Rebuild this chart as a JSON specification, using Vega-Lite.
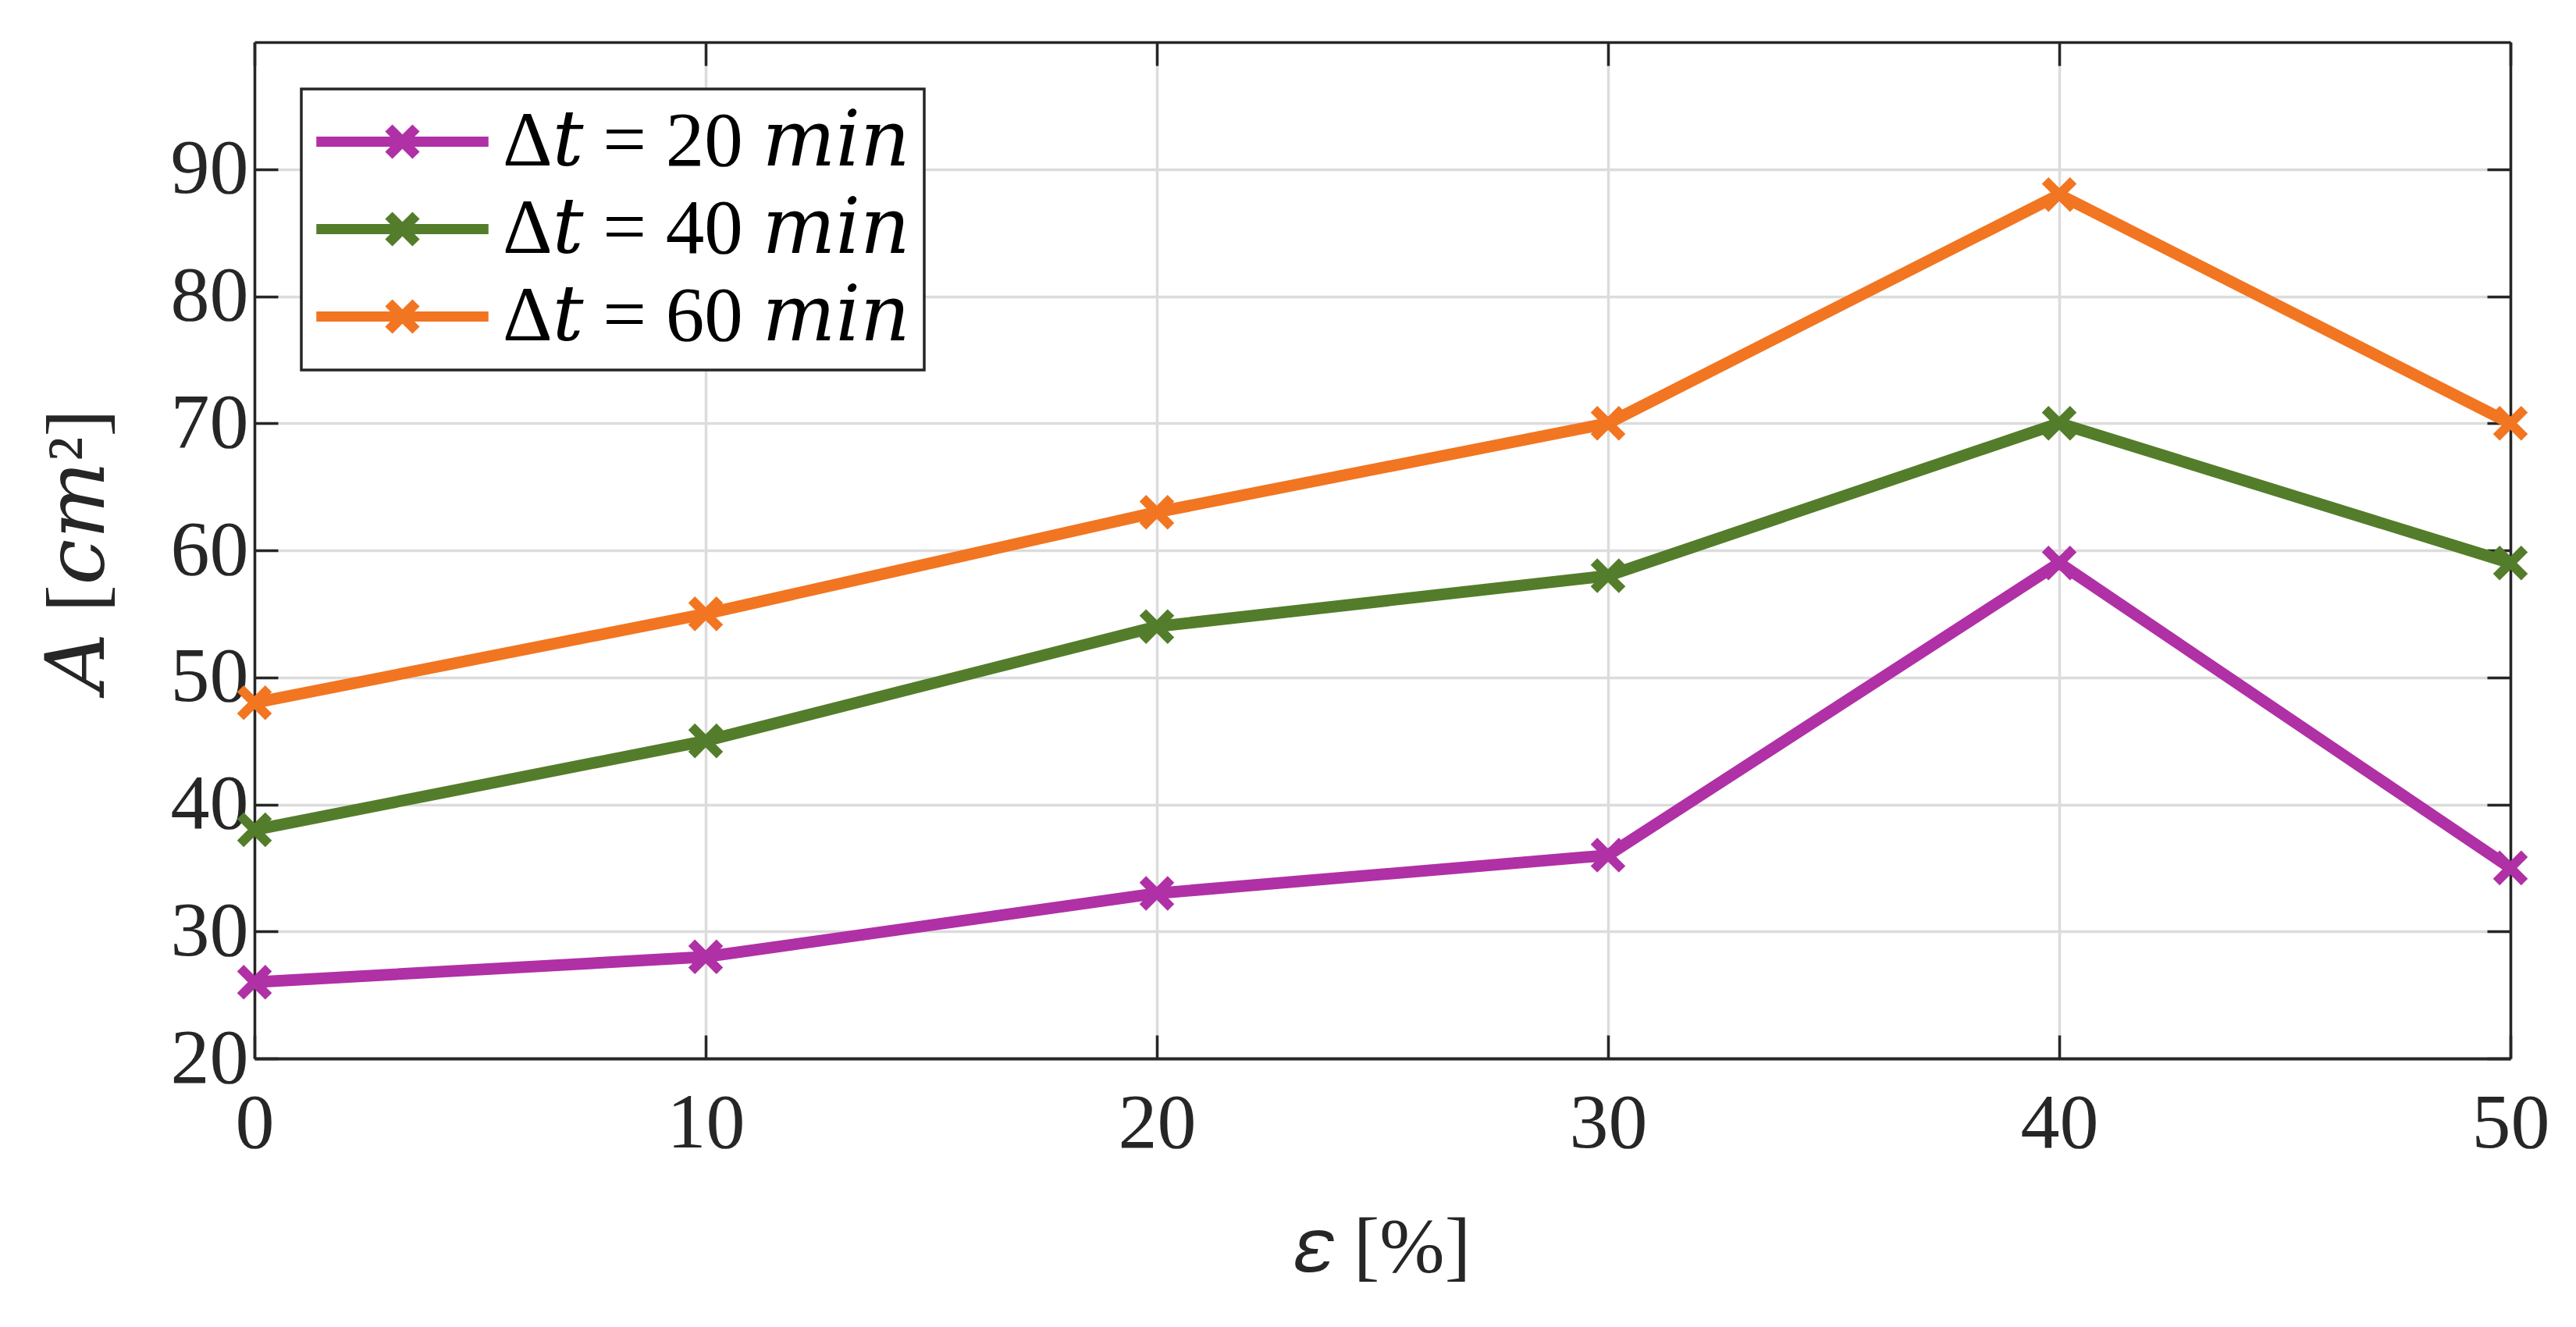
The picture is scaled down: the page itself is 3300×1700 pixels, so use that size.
{
  "$schema": "https://vega.github.io/schema/vega-lite/v6.json",
  "width": 2890,
  "height": 1302,
  "autosize": "none",
  "padding": {"left": 326, "top": 54, "right": 84, "bottom": 344},
  "background": "white",
  "config": {
    "view": {"stroke": null},
    "font": "Liberation Serif, DejaVu Serif",
    "legend": {
      "strokeColor": "#262626",
      "strokeWidth": 3.5,
      "fillColor": "white"
    }
  },
  "data": {
    "values": [
      {"eps": 0, "A": 26, "series": "Δ𝑡 = 20 𝑚𝑖𝑛"},
      {"eps": 10, "A": 28, "series": "Δ𝑡 = 20 𝑚𝑖𝑛"},
      {"eps": 20, "A": 33, "series": "Δ𝑡 = 20 𝑚𝑖𝑛"},
      {"eps": 30, "A": 36, "series": "Δ𝑡 = 20 𝑚𝑖𝑛"},
      {"eps": 40, "A": 59, "series": "Δ𝑡 = 20 𝑚𝑖𝑛"},
      {"eps": 50, "A": 35, "series": "Δ𝑡 = 20 𝑚𝑖𝑛"},
      {"eps": 0, "A": 38, "series": "Δ𝑡 = 40 𝑚𝑖𝑛"},
      {"eps": 10, "A": 45, "series": "Δ𝑡 = 40 𝑚𝑖𝑛"},
      {"eps": 20, "A": 54, "series": "Δ𝑡 = 40 𝑚𝑖𝑛"},
      {"eps": 30, "A": 58, "series": "Δ𝑡 = 40 𝑚𝑖𝑛"},
      {"eps": 40, "A": 70, "series": "Δ𝑡 = 40 𝑚𝑖𝑛"},
      {"eps": 50, "A": 59, "series": "Δ𝑡 = 40 𝑚𝑖𝑛"},
      {"eps": 0, "A": 48, "series": "Δ𝑡 = 60 𝑚𝑖𝑛"},
      {"eps": 10, "A": 55, "series": "Δ𝑡 = 60 𝑚𝑖𝑛"},
      {"eps": 20, "A": 63, "series": "Δ𝑡 = 60 𝑚𝑖𝑛"},
      {"eps": 30, "A": 70, "series": "Δ𝑡 = 60 𝑚𝑖𝑛"},
      {"eps": 40, "A": 88, "series": "Δ𝑡 = 60 𝑚𝑖𝑛"},
      {"eps": 50, "A": 70, "series": "Δ𝑡 = 60 𝑚𝑖𝑛"}
    ]
  },
  "layer": [
    {
      "mark": {"type": "line", "strokeWidth": 15},
      "encoding": {
        "x": {
          "field": "eps",
          "type": "quantitative",
          "scale": {"domain": [0, 50], "nice": false, "zero": false},
          "axis": {
            "orient": "bottom",
            "values": [0, 10, 20, 30, 40, 50],
            "grid": true,
            "gridColor": "#DCDCDC",
            "gridWidth": 3.5,
            "domainColor": "#262626",
            "domainWidth": 4,
            "tickColor": "#262626",
            "tickWidth": 3.5,
            "tickSize": -30,
            "labelFlush": false,
            "labelFontSize": 100,
            "labelColor": "#262626",
            "labelPadding": 64,
            "title": "𝜀 [%]",
            "titleFontSize": 100,
            "titleFontWeight": "normal",
            "titleColor": "#262626",
            "titlePadding": 60
          }
        },
        "y": {
          "field": "A",
          "type": "quantitative",
          "scale": {"domain": [20, 100], "nice": false, "zero": false},
          "axis": {
            "orient": "left",
            "values": [20, 30, 40, 50, 60, 70, 80, 90],
            "grid": true,
            "gridColor": "#DCDCDC",
            "gridWidth": 3.5,
            "domainColor": "#262626",
            "domainWidth": 3.5,
            "tickColor": "#262626",
            "tickWidth": 3.5,
            "tickSize": -30,
            "labelFlush": false,
            "labelFontSize": 100,
            "labelColor": "#262626",
            "labelPadding": 38,
            "title": "𝐴 [𝑐𝑚²]",
            "titleFontSize": 105,
            "titleFontWeight": "normal",
            "titleColor": "#262626",
            "titlePadding": 64
          }
        },
        "color": {
          "field": "series",
          "type": "nominal",
          "scale": {"range": ["#B030A6", "#537D2A", "#F27521"]},
          "legend": {
            "orient": "top-left",
            "offset": 60,
            "title": null,
            "padding": 18,
            "labelFontSize": 99,
            "labelColor": "black",
            "labelLimit": 0,
            "rowPadding": 12,
            "symbolType": "M-6.3,0L6.3,0M-1,-1L1,1M-1,1L1,-1",
            "symbolSize": 1225,
            "symbolStrokeWidth": 13,
            "symbolOffset": 62,
            "labelOffset": 79
          }
        }
      }
    },
    {
      "mark": {
        "type": "point",
        "shape": "M-1,-1L1,1M-1,1L1,-1",
        "size": 1300,
        "strokeWidth": 12,
        "filled": false,
        "opacity": 1
      },
      "encoding": {
        "x": {
          "field": "eps",
          "type": "quantitative",
          "axis": {
            "orient": "top",
            "values": [0, 10, 20, 30, 40, 50],
            "grid": false,
            "labels": false,
            "title": null,
            "domainColor": "#262626",
            "domainWidth": 3.5,
            "tickColor": "#262626",
            "tickWidth": 3.5,
            "tickSize": -30
          }
        },
        "y": {
          "field": "A",
          "type": "quantitative",
          "axis": {
            "orient": "right",
            "values": [20, 30, 40, 50, 60, 70, 80, 90],
            "grid": false,
            "labels": false,
            "title": null,
            "domainColor": "#262626",
            "domainWidth": 3.5,
            "tickColor": "#262626",
            "tickWidth": 3.5,
            "tickSize": -30
          }
        },
        "color": {"field": "series", "type": "nominal", "legend": null}
      }
    }
  ],
  "resolve": {"axis": {"x": "independent", "y": "independent"}}
}
